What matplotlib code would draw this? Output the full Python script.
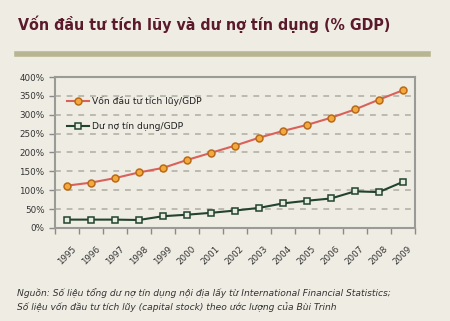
import matplotlib.pyplot as plt
import numpy as np

# du lieu
years = ['1995', '1996', '1997', '1998', '1999', '2000', '2001', '2002',
         '2003', '2004', '2005', '2006', '2007', '2008', '2009']
von_dau_tu = [112, 120, 132, 147, 159, 180, 199, 218, 239, 257, 273, 292, 314, 340, 365]
du_no = [22, 22, 22, 21, 31, 35, 40, 46, 53, 65, 72, 78, 97, 95, 122]
y_ticks = [0, 50, 100, 150, 200, 250, 300, 350, 400]

bg = '#efece3'
plt.rcParams['font.family'] = ['DejaVu Sans']

fig = plt.figure(figsize=(4.5, 3.21), dpi=100, facecolor=bg)
ax = fig.add_axes([0.122, 0.29, 0.80, 0.47], facecolor=bg)

x = np.arange(len(years))
ax.plot(x, von_dau_tu, color='#d8625a', lw=1.5, marker='o', ms=5,
        mfc='#f4a93c', mec='#b86a1a', mew=1.1, label='Vốn đầu tư tích lũy/GDP')
ax.plot(x, du_no, color='#22432f', lw=1.5, marker='s', ms=4,
        mfc='#e8ebdf', mec='#22432f', mew=1.1, label='Dư nợ tín dụng/GDP')

ax.set_ylim(0, 400)
ax.set_yticks(y_ticks)
ax.set_yticklabels([f'{v}%' for v in y_ticks], fontsize=6.3, color='#333333')
ax.yaxis.grid(True, ls=(0, (3.5, 3.5)), color='#b3b1a8', lw=1.2)
ax.set_axisbelow(True)

ax.set_xlim(-0.5, len(years) - 0.5)
ax.set_xticks(np.arange(-0.5, len(years), 1.0))
ax.set_xticklabels([])
ax.set_xticks(x, minor=True)
ax.set_xticklabels(years, minor=True, rotation=45, ha='center', fontsize=6.3, color='#333333')
ax.tick_params(axis='x', which='minor', length=0, pad=12)
ax.tick_params(axis='both', which='major', length=4, color='#8a8a8a', width=1)

for s in ax.spines.values():
    s.set_color('#9a9a96')
    s.set_linewidth(1.5)

leg = ax.legend(loc='upper left', bbox_to_anchor=(0.01, 0.93), frameon=False,
                fontsize=6.6, labelspacing=1.8, handlelength=2.4, handletextpad=0.3)
for t in leg.get_texts():
    t.set_color('#222222')

# tieu de
fig.text(0.04, 0.925, 'Vốn đầu tư tích lũy và dư nợ tín dụng (% GDP)',
         family='DejaVu Sans', stretch='condensed', weight='bold',
         fontsize=11.4, color='#5a1a2c', va='center')
fig.add_artist(plt.Line2D([0.038, 0.95], [0.833, 0.833], color='#b8b592', lw=4,
                          transform=fig.transFigure))

# nguon
fig.text(0.038, 0.066,
         'Nguồn: Số liệu tổng dư nợ tín dụng nội địa lấy từ International Financial Statistics;\n'
         'Số liệu vốn đầu tư tích lũy (capital stock) theo ước lượng của Bùi Trinh',
         fontsize=6.6, style='italic', color='#333333', linespacing=1.5, va='center')

plt.savefig('out.png', dpi=100, facecolor=bg)
